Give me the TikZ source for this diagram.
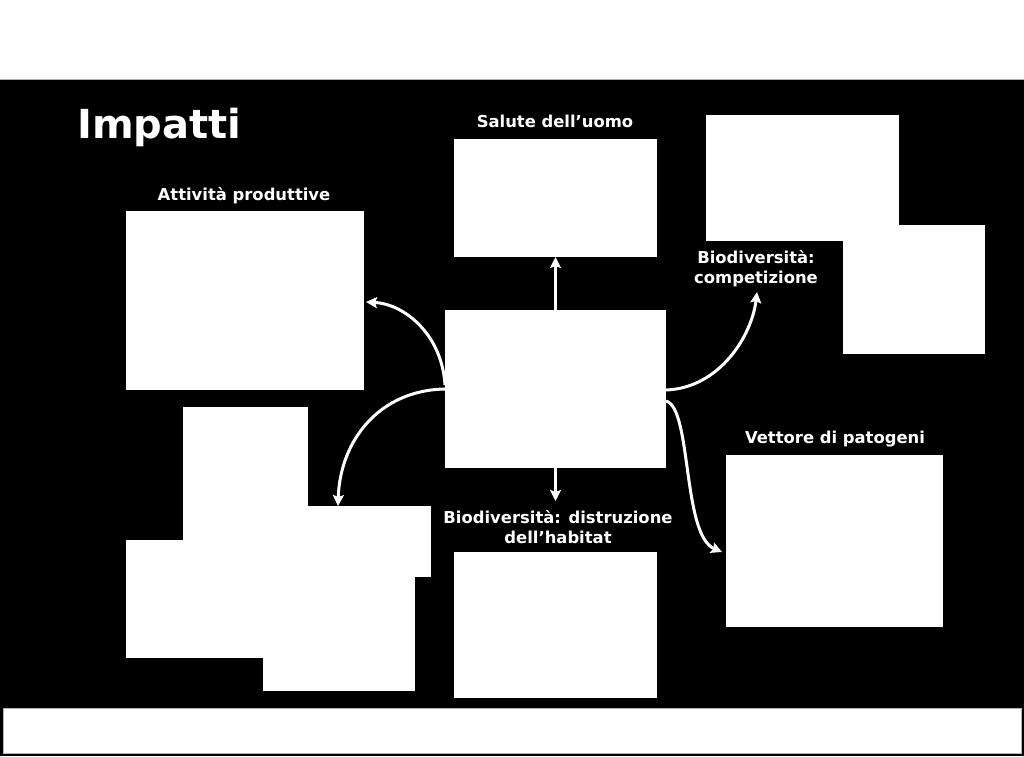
\documentclass[tikz,border=0pt]{standalone}
\usepackage{fontspec}
\setmainfont{DejaVu Sans}
\usetikzlibrary{arrows.meta}
\begin{document}
\begin{tikzpicture}[x=1pt,y=-1pt,
  wbox/.style={fill=white,draw=none,anchor=north west,inner sep=0pt,outer sep=0pt},
  lbl/.style={text=white,font=\bfseries\fontsize{16.4}{20}\selectfont,inner sep=0pt,align=center},
  conn/.style={draw=white,line width=3pt,-{Stealth[length=11pt,width=11pt,inset=2pt]}}]
\useasboundingbox (0,0) rectangle (1024,756);
\fill[black] (0,0) rectangle (1024,756);
\fill[white] (0,0) rectangle (1024,79);
\draw[gray!60,line width=0.8pt] (0,79) -- (1024,79);
\node[wbox,draw=gray!60,line width=0.8pt,minimum width=1018pt,minimum height=45pt] (bar) at (3,708) {};
% title
\node[text=white,font=\bfseries\fontsize{40}{48}\selectfont,anchor=base west,inner sep=0pt] (title) at (77,138) {Impatti};
% boxes
\node[wbox,minimum width=238pt,minimum height=179pt] (act) at (126,211) {};
\node[wbox,minimum width=203pt,minimum height=118pt] (sal) at (454,139) {};
\node[wbox,minimum width=221pt,minimum height=158pt] (cen) at (445,310) {};
\node[wbox,minimum width=193pt,minimum height=126pt] (compA) at (706,115) {};
\node[wbox,minimum width=142pt,minimum height=129pt] (compB) at (843,225) {};
\node[wbox,minimum width=217pt,minimum height=172pt] (vet) at (726,455) {};
\node[wbox,minimum width=203pt,minimum height=146pt] (hab) at (454,552) {};
\node[wbox,minimum width=125pt,minimum height=193pt] (r1) at (183,407) {};
\node[wbox,minimum width=141pt,minimum height=71pt] (r2) at (290,506) {};
\node[wbox,minimum width=204pt,minimum height=118pt] (r3) at (126,540) {};
\node[wbox,minimum width=152pt,minimum height=121pt] (r4) at (263,570) {};
% labels
\node[lbl,anchor=base] (lact) at (244,200) {Attività produttive};
\node[lbl,anchor=base] (lsal) at (555,127) {Salute dell’uomo};
\node[lbl,anchor=base] (lcomp) at (756,283) {Biodiversità:\\competizione};
\node[lbl,anchor=base] (lvet) at (835,443) {Vettore di patogeni};
\node[lbl,anchor=base] (lhab) at (558,543) {Biodiversità: distruzione\\dell’habitat};
% connectors
\coordinate (e1) at (366,302);
\coordinate (e2) at (338,506);
\coordinate (e5) at (757,292);
\coordinate (e6) at (722,552);
\coordinate (s1) at (445,385);
\coordinate (s2) at (445,389);
\coordinate (s5) at (666,390);
\coordinate (s6) at (666,401);
\coordinate (e4) at ([yshift=-33pt]cen.south);
\draw[conn] (s1) .. controls (442,335) and (405,304) .. (e1);
\draw[conn] (s2) .. controls (380,390) and (340,440) .. (e2);
\draw[conn] (cen.north) -- (sal.south);
\draw[conn] (cen.south) -- (e4);
\draw[conn] (s5) .. controls (720,388) and (752,335) .. (e5);
\draw[conn] (s6) .. controls (692,408) and (682,535) .. (e6);
\end{tikzpicture}
\end{document}
